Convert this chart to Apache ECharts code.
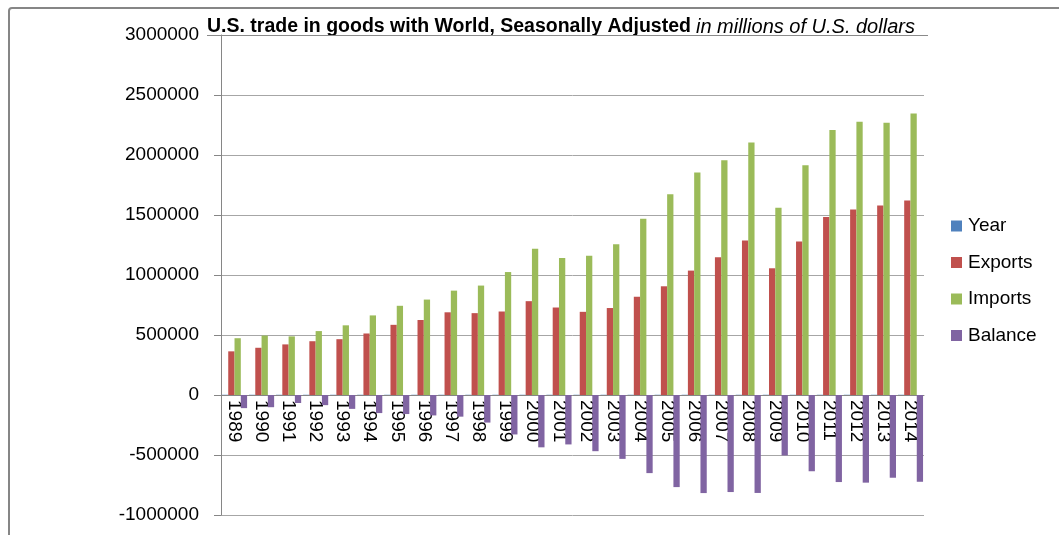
<!DOCTYPE html>
<html>
<head>
<meta charset="utf-8">
<script src="https://cdn.jsdelivr.net/npm/echarts@6/dist/echarts.min.js"></script>
<style>
  html, body { margin: 0; padding: 0; background: #fff; overflow: hidden; }
  #frame { position: absolute; left: 8px; top: 7px; width: 1100px; height: 600px;
           border: 2px solid #868686; border-radius: 4px; box-sizing: border-box; }
  #chart { position: absolute; left: 0; top: 0; width: 1059px; height: 535px; }
</style>
</head>
<body>
<div id="frame"></div>
<div id="chart"></div>
<script>
// ---- data ----
const years = ['1989','1990','1991','1992','1993','1994','1995','1996','1997','1998','1999','2000','2001',
               '2002','2003','2004','2005','2006','2007','2008','2009','2010','2011','2012','2013','2014'];
const yearValues = [1989,1990,1991,1992,1993,1994,1995,1996,1997,1998,1999,2000,2001,
                    2002,2003,2004,2005,2006,2007,2008,2009,2010,2011,2012,2013,2014];
const exportsValues = [363812,393592,421730,448164,465091,512626,584742,625075,689182,682138,695797,781918,729100,
                       693103,724771,818775,905978,1036635,1148199,1287442,1056043,1278495,1482508,1545821,1578517,1621874];
const importsValues = [473211,495311,488453,532665,580659,663256,743445,795289,869704,911896,1024618,1218022,1140999,
                       1161366,1257121,1469704,1673455,1853938,1956962,2103641,1559625,1913857,2208055,2276267,2267987,2345006];
const balanceValues = [-109399,-101719,-66723,-84501,-115568,-150630,-158703,-170214,-180522,-229758,-328821,-436104,-411899,
                       -468263,-532350,-650930,-767477,-817304,-808763,-816199,-503582,-635362,-725447,-730446,-689470,-723132];
const yTicks = { min: -1000000, max: 3000000, step: 500000 };
const titleBold = 'U.S. trade in goods with World, Seasonally Adjusted';
const titleItalic = 'in millions of U.S. dollars';

const FONT = '"Liberation Sans", Arial, sans-serif';
const GRID = { left: 221, right: 135, top: 35, bottom: 20 };
const plotH = 535 - GRID.top - GRID.bottom;
// move the category axis up to the zero line (labels follow it)
const zeroOffset = -plotH * (0 - yTicks.min) / (yTicks.max - yTicks.min);

const chart = echarts.init(document.getElementById('chart'), null, { renderer: 'canvas' });

function bar(name, data, color) {
  return { name, type: 'bar', data, itemStyle: { color }, barGap: '0%', barCategoryGap: '7%', animation: false };
}

chart.setOption({
  animation: false,
  backgroundColor: 'transparent',
  title: {
    text: '{b|' + titleBold + '} {i|' + titleItalic + '}',
    left: 207, top: 17, padding: 0,
    textStyle: {
      rich: {
        b: { fontFamily: FONT, fontWeight: 'bold', fontSize: 19.5, color: '#000' },
        i: { fontFamily: FONT, fontStyle: 'italic', fontWeight: 'normal', fontSize: 20, color: '#000' }
      }
    }
  },
  graphic: [{
    type: 'line', shape: { x1: 207, y1: 35.5, x2: 928, y2: 35.5 },
    style: { stroke: '#8a8a8a', lineWidth: 1 }, z: 10
  }],
  legend: {
    orient: 'vertical', left: 951, top: 216, padding: 0,
    icon: 'rect', itemWidth: 11, itemHeight: 11, itemGap: 16.5,
    textStyle: { fontFamily: FONT, fontSize: 19, color: '#000', lineHeight: 20, padding: [0, 0, 0, 1] },
    data: ['Year', 'Exports', 'Imports', 'Balance']
  },
  grid: { left: GRID.left, right: GRID.right, top: GRID.top, bottom: GRID.bottom, containLabel: false, outerBoundsMode: 'none' },
  xAxis: {
    type: 'category', data: years, offset: zeroOffset,
    axisLine: { onZero: false, lineStyle: { color: '#868686', width: 1 } },
    axisTick: { show: false },
    axisLabel: { rotate: -90, margin: 5, fontFamily: FONT, fontSize: 19, color: '#000', interval: 0 },
    splitLine: { show: false }
  },
  yAxis: {
    type: 'value', min: yTicks.min, max: yTicks.max, interval: yTicks.step,
    axisLine: { show: true, lineStyle: { color: '#868686', width: 1 } },
    axisTick: { show: true, length: 7, lineStyle: { color: '#868686' } },
    axisLabel: { margin: 22, fontFamily: FONT, fontSize: 19, color: '#000', formatter: v => String(v) },
    splitLine: { show: true, lineStyle: { color: '#a6a6a6', width: 1 } }
  },
  series: [
    bar('Year', yearValues, '#4F81BD'),
    bar('Exports', exportsValues, '#C0504D'),
    bar('Imports', importsValues, '#9BBB59'),
    bar('Balance', balanceValues, '#8064A2')
  ]
});
</script>
</body>
</html>
